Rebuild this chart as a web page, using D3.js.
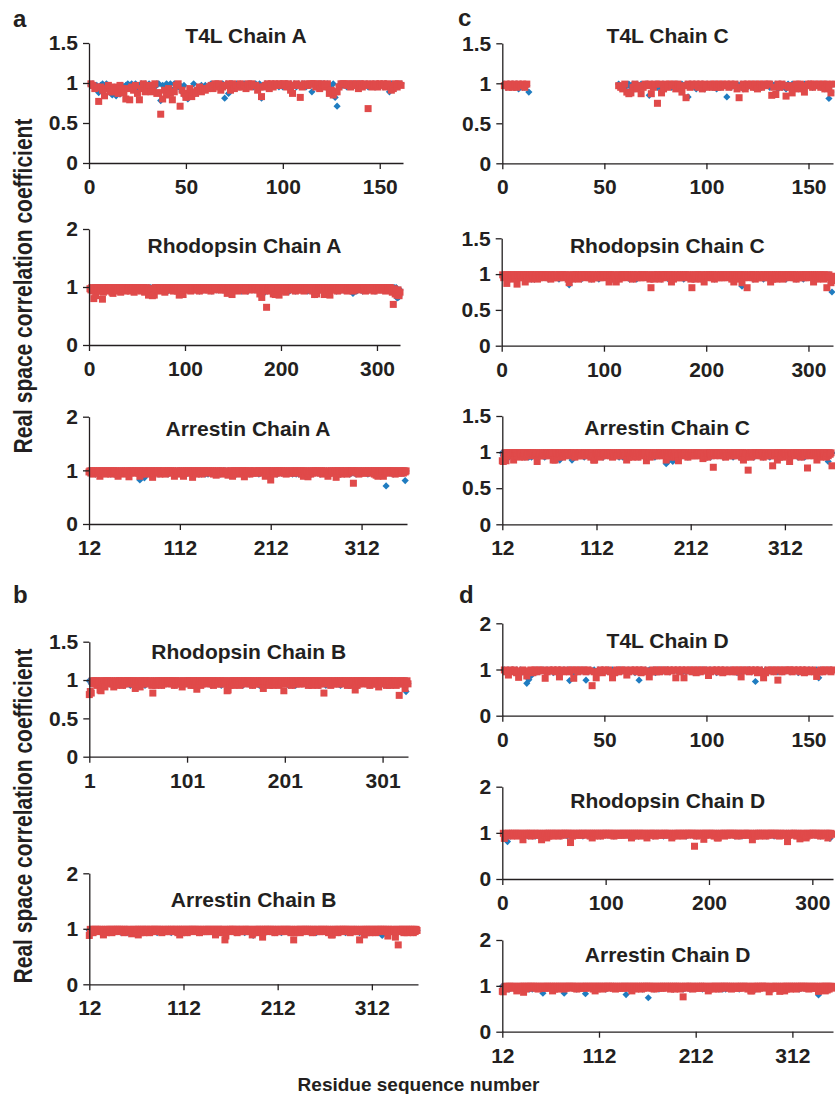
<!DOCTYPE html>
<html>
<head>
<meta charset="utf-8">
<script src="https://cdn.jsdelivr.net/npm/d3@7"></script>
<style>
  body { margin: 0; background: #fff; }
  text { font-family: "Liberation Sans", Arial, Helvetica, sans-serif; font-weight: bold; fill: #231f20; }
</style>
</head>
<body>
<svg id="chart" width="835" height="1094"></svg>
<script>
// Real space correlation coefficient per residue, one character per residue.
// '0'..'9' = 0.81..0.99 (steps of 0.02), 'a'..'z' = 0.89..0.64, 'A'.. = 0.63..,
// '-' = residue not modelled. Spaces only group residues by ten.

// T4L (first residue 1)
const t4lA_red  = "9867m75f68 4a75c86bj6 k7583k6947 8a693bCj52 6ck489s53h 26g4357465 6786979578 8959687978 6979885717 8969798989 97953898h7 9889997969 879352a479 9989798969 798v978979 8979856979 8";
const t4lA_blue = "8978b89798 6e7f5d8789 8979789697 978799l879 7959878a8h jfe9c67878 7897989690 9c79897989 79897989i7 9798989797 8979897989 9798a97989 979869hs89 8979898979 9897989798 9798a98979 9";
const t4lC_red  = "8979797989 79-------- ---------- ---------- ---------- ------8769 a3b7968c79 89379o9b69 7989697a8h 9798979697 8979797989 79896h7969 8979697989 9e7d9798f7 8b79697a89 9798979697 b9";
const t4lC_blue = "9798979697 784------- ---------- ---------- ---------- ------9787 8979697989 9e98979697 8979797989 1989697969 8979697981 9798979697 8979797989 7989697969 8979697989 9798979690 a9";
const t4lD_red  = "97b9796g89 7d89697989 i798979f97 8979i97989 798y7h7969 897h697989 b798979697 8f79797989 7989h979h9 8979697989 c798979697 897979f989 7989697h69 8979m97989 9798979697 897e797989 79";
const t4lD_blue = "9798979697 8tld797989 7989697969 89n9697989 m798979697 8979797989 798969m969 8979697989 9798979697 8979797989 7989697969 8979697989 979p979697 8979797989 7989697969 8979h97989 98";

// Rhodopsin (first residue 1)
const rhoA_red  = "8796j8e979 686k597968 9795a78969 7958979697 8969795897 9796989579 8d7c6e8d97 9869797958 9798979697 969d798c97 9798969798 8979698979 7989796989 9897999798 797a8979c9 8979697989 7969897989 9798979b5h 9769y87969 7b8c979d89 6979597989 7989697978 9796989797 8969c7b979 7989c96a97 d979897969 8979798969 7989697989 9798979697 8979896979 7989797969 897975t8b6 d7e5";
const rhoA_blue = "9879789697 7989697979 8979697989 9798969797 7989798979 8979697989 7959697979 8979797989 9697989798 7979798969 8979797989 7989697979 9798979697 8979798979 9798969789 7989797969 8979697989 9798979798 7a89797969 8979697989 7989797969 8979697989 9798979697 8979c9a979 7989796989 9798979697 8979797989 7989a97969 8979697989 9798979697 8979797989 7989697989 0hg7";
const rhoB_red  = "0219797969 8cd9695989 7989757969 8979697989 9798979497 8959797989 79896g7969 8979697989 9798979697 8979757989 7989697969 b979697989 9798979697 8979797989 7dc9697969 8979697989 9798979697 8979797949 7989697969 897969798d 9798979697 8979797989 7989697969 8979697989 g798979697 8979797989 7989697969 89c9697989 9798979697 8979795989 7989697969 8979697j89 979a897";
const rhoB_blue = "9e79797989 9689798979 8797969899 9879868979 7968979798 8997979689 9787989697 8979697989 9798979697 8979797989 7989697969 9689798979 8797969899 9879868979 7968979798 8997979689 9787989697 8979697989 9798979697 8979797989 7989697969 9689798979 8797969899 9879868979 7968979798 8997979689 9787989697 8979697989 9798979697 8979797989 7989697969 9689798979 7989e97";
const rhoC_red  = "9789c97969 8979d97989 7949797969 8979697989 9798979697 8979797989 79896b7969 8979697989 9798979697 8979797989 7989497969 8a79697989 9798979697 8979797989 7989607969 8979697989 9798949697 8979797989 79896i7969 8979697a89 9798979697 8979797989 7989694969 8979b9798i 9798979697 8979797989 7949697969 8979697989 9798979697 8979797989 7989497969 8979697i89 7b85";
const rhoC_blue = "9798979697 8979797989 7989697969 9689798979 8797969899 9879868979 79896e7969 8997979689 9787989697 8979697989 9798979697 8979797989 7989697969 9689798979 8797969899 9879868979 7968979798 8997979689 9787989697 8979697989 9798979697 8979797989 7989697969 8979g97989 8797969899 9879868979 7968979798 8997979689 9787989697 8979697989 9798979697 8979797989 9bo7";
const rhoD_red  = "9b89797969 897969798e 9798979697 8979797e89 7949697969 8979697989 97989k9697 8979797989 7989694969 8979697989 9798979697 8979797989 7989497969 897969798a 9798979697 8979797989 7984697969 8979697989 97989s9697 8979d97989 7989697449 8979697989 9798979697 8979797989 7e89697969 8979697989 9798979697 89797i7989 7989697c69 8974697989 9798979697 8979a9798";
const rhoD_blue = "9798079697 8979797989 7989697969 9689798979 8797969899 9879868979 7968979798 8997979689 9787989697 8979697989 9798979697 8979797989 7989697969 9689798979 8797969899 9879868979 7968979798 8997979689 9787989697 8979697989 9798979697 8979797989 7989697969 9689798979 8797969899 9879868979 7968979798 8997979689 9787989697 8979697989 9798979697 897979b98";

// Arrestin (first residue 12)
const arrA_red  = "8979697989 7949797969 8979697989 9648979697 8979b97989 7989794969 8979697989 c979898969 7989697989 9798a79697 8979497989 7989c97969 8979697989 9798979697 5979896978 7985697949 8979697989 9b98979697 8979797989 7989497969 h979697989 9798979697 8979797989 7989694969 8b79697989 9798979697 8974797989 79c9697969 8979697989 9n98979697 8979797989 7989695949 8979a97989 9798979697 8979797989";
const arrA_blue = "9798979697 8979797989 7989697969 9689798979 8797969899 897989h989 8d79697989 8997979689 9787989697 8979697989 9798979697 8979797989 7989697969 9689798979 8797969899 9879868979 7968979798 8997979689 9787989697 8979697989 9798979697 8979797989 7989697969 9689798979 8797969899 9879868979 7968979798 8997979689 9787989697 8979697989 9798979697 8979797989 8979697s89 8797969899 8979797909";
const arrB_red  = "b979697989 7989747969 8979697989 9798979697 8979757989 7949697969 8979697989 9798979697 8979797989 7989694969 8979697989 9798979697 8979797989 7989497969 8979jc7989 9798979697 8979797989 7984697969 8979e97989 9798979697 8979797989 7989697j69 8979697989 9798979697 8979797989 7989697449 8979697989 9798979697 8979797j89 7949697969 8979697989 9798979c97 89797e79s9 7989697969 897969798";
const arrB_blue = "8979697989 9798979697 8979797989 7989697969 9689798979 8797969899 9879868979 7968979798 8997979689 9787989697 8979697989 9798979697 8979797989 7989697969 9689798979 8797969899 9879868979 7989b97969 8997979689 9787989697 8979697989 9798979697 8979797989 7989697969 9689798979 8797969899 9879868979 7968979798 8997979689 9787989697 8979697989 9b98979697 8979797989 7989697969 979869798";
const arrC_red  = "bc79b97989 7949797969 8979697989 9798979c97 8979797989 7989494969 8979697989 9798979697 8979797989 7989697449 8979697989 9798979697 8979797989 7949697969 8979697989 979b979697 8979797989 7989497969 8979697b89 9798979697 8979797989 7985697969 8979k97989 9798979697 8979797989 7989694969 8o79697989 9798979697 8979797i89 7949697969 89797c7989 9798979697 8979l97989 7989497969 8979697989 0";
const arrC_blue = "9798979697 8979797989 7989697969 9689798979 8797969899 9879868979 7a68979798 8997a79689 9787989697 8979697989 9798979697 8979797989 7989697969 9689798979 8797969899 9879868979 7968979798 7989f9c969 8c79697989 9798979697 8979797989 7989697969 9689798979 8797969899 9879868979 7968979798 8997979689 9787989697 8979697989 9798979697 8979797989 7989697969 9689798979 8797969899 897969c989 9";
const arrD_red  = "bc79697989 7989747969 89d9697989 9798979697 8979797989 7949697969 8979697989 9798979697 8979797989 7989694969 8979697989 9798979697 8979797989 7989497969 8979697989 9798979697 8979797989 7989697969 8979697n89 9798979697 8979797989 7984697969 8979697989 9798979697 8979797989 7989697449 8979697989 979898c697 8979797b89 7949697969 8979697989 9798979697 8979797b89 7989495969 897";
const arrD_blue = "9798979697 8979797989 7989697969 9689798979 89f9797989 9879868979 8979f97989 8997979689 897979g989 8979697989 9798979697 8979797989 8979797909 9689798979 8797969899 9p98979697 7968979798 8997979689 9787989697 8979697989 9798979697 8979797989 7989697969 9689798979 8797969899 9879868979 7968979798 8997979689 9787989697 8979697989 9798979697 8979797989 8979797j89 7989697969 989";

// axis ticks
const t4lTicks = [0, 50, 100, 150];
const rhoTicks = [0, 100, 200, 300];
const rhoBTicks = [1, 101, 201, 301];
const arrTicks = [12, 112, 212, 312];
const yTicks15 = [0, 0.5, 1, 1.5];
const yTicks2 = [0, 1, 2];

const blueColor = "#1f7cc0";
const redColor = "#e04a4a";
const ink = "#231f20";

function codeValue(c) {
    if (c === "-") return null;
    if (c >= "0" && c <= "9") return 0.81 + (+c) * 0.02;
    if (c >= "a" && c <= "z") return 0.90 - (c.charCodeAt(0) - 96) / 100;
    return 0.64 - (c.charCodeAt(0) - 64) / 100;
}

function decode(str, first) {
    const s = str.replace(/\s+/g, "");
    const out = [];
    for (let i = 0; i < s.length; i++) {
        const v = codeValue(s[i]);
        if (v !== null) out.push({ res: first + i, v: v });
    }
    return out;
}

// panel layout: plot box in page pixels
const panels = [
    { title: "T4L Chain A",       red: t4lA_red, blue: t4lA_blue, first: 1,  xd: [0, 162],  xt: t4lTicks,  ym: 1.5, yt: yTicks15, x0: 89,    x1: 403, y0: 163,    y1: 43,    ty: 43 },
    { title: "Rhodopsin Chain A", red: rhoA_red, blue: rhoA_blue, first: 1,  xd: [0, 324],  xt: rhoTicks,  ym: 2,   yt: yTicks2,  x0: 89,    x1: 400, y0: 345,    y1: 229,   ty: 253 },
    { title: "Arrestin Chain A",  red: arrA_red, blue: arrA_blue, first: 12, xd: [12, 362], xt: arrTicks,  ym: 2,   yt: yTicks2,  x0: 89,    x1: 407, y0: 524,    y1: 416.7, ty: 436 },
    { title: "Rhodopsin Chain B", red: rhoB_red, blue: rhoB_blue, first: 1,  xd: [1, 327],  xt: rhoBTicks, ym: 1.5, yt: yTicks15, x0: 89.3,  x1: 408, y0: 756.7,  y1: 641.7, ty: 659 },
    { title: "Arrestin Chain B",  red: arrB_red, blue: arrB_blue, first: 12, xd: [12, 361], xt: arrTicks,  ym: 2,   yt: yTicks2,  x0: 89.3,  x1: 418, y0: 984.3,  y1: 873.3, ty: 907 },
    { title: "T4L Chain C",       red: t4lC_red, blue: t4lC_blue, first: 1,  xd: [0, 162],  xt: t4lTicks,  ym: 1.5, yt: yTicks15, x0: 502.3, x1: 833, y0: 163.3,  y1: 43.3,  ty: 43 },
    { title: "Rhodopsin Chain C", red: rhoC_red, blue: rhoC_blue, first: 1,  xd: [0, 324],  xt: rhoTicks,  ym: 1.5, yt: yTicks15, x0: 501.7, x1: 833, y0: 345.7,  y1: 238.3, ty: 253 },
    { title: "Arrestin Chain C",  red: arrC_red, blue: arrC_blue, first: 12, xd: [12, 362], xt: arrTicks,  ym: 1.5, yt: yTicks15, x0: 502.3, x1: 832, y0: 524.3,  y1: 416,   ty: 435 },
    { title: "T4L Chain D",       red: t4lD_red, blue: t4lD_blue, first: 1,  xd: [0, 162],  xt: t4lTicks,  ym: 2,   yt: yTicks2,  x0: 502.3, x1: 833, y0: 715.7,  y1: 623.3, ty: 648 },
    { title: "Rhodopsin Chain D", red: rhoD_red, blue: rhoD_blue, first: 1,  xd: [0, 320],  xt: rhoTicks,  ym: 2,   yt: yTicks2,  x0: 502.3, x1: 833, y0: 879,    y1: 786.7, ty: 808 },
    { title: "Arrestin Chain D",  red: arrD_red, blue: arrD_blue, first: 12, xd: [12, 354], xt: arrTicks,  ym: 2,   yt: yTicks2,  x0: 502.3, x1: 833, y0: 1031.7, y1: 940,   ty: 962 }
];

const svg = d3.select("#chart");
svg.append("rect").attr("width", 835).attr("height", 1094).attr("fill", "#fff");

const diamond = "M0,-3.6L3.6,0L0,3.6L-3.6,0Z";
const sq = 7;

function styleAxis(g) {
    g.attr("font-size", 21)
        .attr("font-family", "'Liberation Sans', Arial, sans-serif")
        .attr("font-weight", "bold");
    g.selectAll("path.domain, .tick line").attr("stroke", ink).attr("stroke-width", 1.3);
    g.selectAll(".tick text").attr("fill", ink);
}

panels.forEach(function(p) {
    const x = d3.scaleLinear().domain(p.xd).range([p.x0, p.x1]);
    const y = d3.scaleLinear().domain([0, p.ym]).range([p.y0, p.y1]);
    const g = svg.append("g");

    // series 1 (blue diamonds) below series 2 (red squares)
    g.append("g").selectAll("path")
        .data(decode(p.blue, p.first))
        .join("path")
        .attr("d", diamond)
        .attr("transform", function(d) { return "translate(" + x(d.res) + "," + y(d.v) + ")"; })
        .attr("fill", blueColor);

    g.append("g").selectAll("rect")
        .data(decode(p.red, p.first))
        .join("rect")
        .attr("x", function(d) { return x(d.res) - sq / 2; })
        .attr("y", function(d) { return y(d.v) - sq / 2; })
        .attr("width", sq)
        .attr("height", sq)
        .attr("fill", redColor);

    g.append("g")
        .attr("transform", "translate(" + p.x0 + ",0)")
        .call(d3.axisLeft(y).tickValues(p.yt).tickSize(6).tickSizeOuter(0).tickPadding(5).tickFormat(d3.format("~g")))
        .call(styleAxis);

    g.append("g")
        .attr("transform", "translate(0," + p.y0 + ")")
        .call(d3.axisBottom(x).tickValues(p.xt).tickSize(6).tickSizeOuter(0).tickPadding(10).tickFormat(d3.format("d")))
        .call(styleAxis);

    g.append("text")
        .attr("x", (p.x0 + p.x1) / 2)
        .attr("y", p.ty)
        .attr("text-anchor", "middle")
        .attr("font-size", 21)
        .text(p.title);
});

// panel letters
const letters = [["a", 13, 27], ["b", 13, 603], ["c", 458, 26], ["d", 459, 603]];
svg.selectAll("text.letter")
    .data(letters)
    .join("text")
    .attr("class", "letter")
    .attr("x", function(d) { return d[1]; })
    .attr("y", function(d) { return d[2]; })
    .attr("font-size", 24)
    .text(function(d) { return d[0]; });

// y axis titles
[286, 816].forEach(function(cy) {
    svg.append("text")
        .attr("transform", "translate(32," + cy + ") rotate(-90) scale(1,1.2)")
        .attr("text-anchor", "middle")
        .attr("font-size", 21)
        .text("Real space correlation coefficient");
});

svg.append("text")
    .attr("x", 418.5)
    .attr("y", 1091)
    .attr("text-anchor", "middle")
    .attr("font-size", 19)
    .text("Residue sequence number");
</script>
</body>
</html>
